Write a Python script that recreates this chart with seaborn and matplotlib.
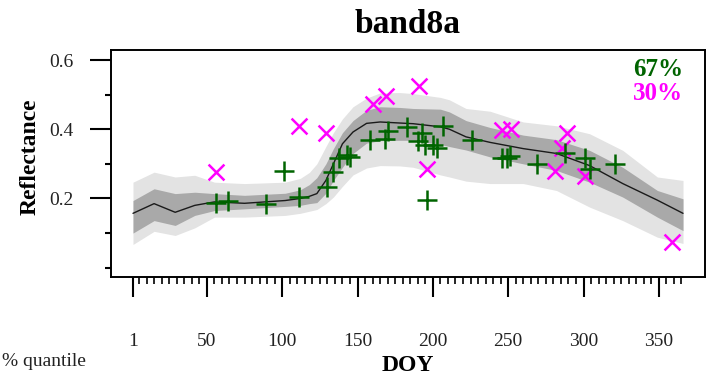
import numpy as np
import pandas as pd
import matplotlib
matplotlib.use("Agg")
import matplotlib.pyplot as plt
import seaborn as sns
from matplotlib.ticker import FixedLocator

# ---- data ----
band_days = [1, 15, 29, 42, 55, 75, 102, 112, 118, 123, 129, 134, 140, 147, 156, 165, 178,
             187, 205, 211, 222, 238, 260, 282, 304, 326, 349, 366]
median = [0.157, 0.185, 0.160, 0.180, 0.190, 0.186, 0.194, 0.200, 0.206, 0.214, 0.252,
          0.300, 0.358, 0.392, 0.417, 0.421, 0.418, 0.416, 0.407, 0.400, 0.378, 0.362,
          0.344, 0.330, 0.295, 0.243, 0.195, 0.157]
inner_hi = [0.194, 0.228, 0.214, 0.218, 0.214, 0.209, 0.215, 0.225, 0.240, 0.260, 0.300,
            0.344, 0.390, 0.425, 0.455, 0.465, 0.463, 0.460, 0.458, 0.450, 0.425, 0.405,
            0.383, 0.370, 0.339, 0.290, 0.223, 0.199]
inner_lo = [0.100, 0.136, 0.122, 0.151, 0.165, 0.170, 0.177, 0.180, 0.185, 0.188, 0.215,
            0.252, 0.290, 0.330, 0.360, 0.367, 0.368, 0.368, 0.356, 0.350, 0.340, 0.320,
            0.300, 0.281, 0.247, 0.204, 0.146, 0.107]
outer_hi = [0.247, 0.276, 0.262, 0.267, 0.247, 0.243, 0.247, 0.258, 0.275, 0.300, 0.350,
            0.390, 0.430, 0.465, 0.490, 0.505, 0.506, 0.503, 0.492, 0.485, 0.460, 0.452,
            0.421, 0.410, 0.387, 0.339, 0.262, 0.252]
outer_lo = [0.067, 0.105, 0.093, 0.115, 0.146, 0.146, 0.151, 0.157, 0.163, 0.168, 0.185,
            0.204, 0.235, 0.268, 0.288, 0.295, 0.294, 0.290, 0.268, 0.262, 0.250, 0.243,
            0.243, 0.223, 0.175, 0.136, 0.088, 0.070]

green_days = [56, 64, 89, 101, 111, 130, 134, 138, 143, 145, 158, 168, 170, 183, 190, 193,
              195, 196, 200, 203, 207, 226, 246, 249, 251, 269, 288, 301, 304, 321]
green_vals = [0.186, 0.194, 0.183, 0.278, 0.203, 0.232, 0.275, 0.318, 0.326, 0.320, 0.370,
              0.372, 0.395, 0.406, 0.365, 0.390, 0.355, 0.195, 0.354, 0.345, 0.410, 0.368,
              0.318, 0.318, 0.322, 0.300, 0.330, 0.316, 0.285, 0.300]

magenta_days = [56, 111, 129, 160, 169, 191, 196, 246, 252, 281, 286, 289, 301, 359]
magenta_vals = [0.275, 0.410, 0.390, 0.472, 0.496, 0.525, 0.284, 0.397, 0.400, 0.278,
                0.345, 0.388, 0.264, 0.075]

x_major = [1, 50, 100, 150, 200, 250, 300, 350]
y_major = [0.2, 0.4, 0.6]
y_minor = [0.0, 0.1, 0.3, 0.5]
x_minor = [d for d in range(5, 366, 5) if d % 50 != 0]

title = "band8a"
xlabel = "DOY"
ylabel = "Reflectance"
pct_green = "67%"
pct_magenta = "30%"
side_note = "% quantile"

# ---- plotting ----
sns.set_style("ticks")
plt.rcParams["font.family"] = ["Liberation Serif", "DejaVu Serif"]
plt.rcParams["text.color"] = "black"
plt.rcParams["axes.labelcolor"] = "black"
plt.rcParams["xtick.color"] = "black"
plt.rcParams["ytick.color"] = "black"

fig = plt.figure(figsize=(7.15, 3.75), dpi=100)
ax = fig.add_axes([111 / 715, 1 - 277 / 375, 594 / 715, 227 / 375])

bands = pd.DataFrame({"day": band_days, "median": median, "ilo": inner_lo,
                      "ihi": inner_hi, "olo": outer_lo, "ohi": outer_hi})
ax.fill_between(bands["day"], bands["olo"], bands["ohi"], color="#e3e3e3", lw=0, zorder=1)
ax.fill_between(bands["day"], bands["ilo"], bands["ihi"], color="#a9a9a9", lw=0, zorder=2)
sns.lineplot(data=bands, x="day", y="median", ax=ax, color="#1a1a1a", lw=1.0, zorder=3)

g = pd.DataFrame({"day": green_days, "val": green_vals})
m = pd.DataFrame({"day": magenta_days, "val": magenta_vals})
sns.scatterplot(data=g, x="day", y="val", ax=ax, marker="+", s=200, color="#006400",
                linewidth=1.8, zorder=5)
sns.scatterplot(data=m, x="day", y="val", ax=ax, marker="x", s=130, color="#ff00ff",
                linewidth=1.8, zorder=4)

ax.set_xlim(-13.6, 380.6)
ax.set_ylim(-0.027, 0.629)

ax.xaxis.set_major_locator(FixedLocator(x_major))
ax.xaxis.set_minor_locator(FixedLocator(x_minor))
ax.yaxis.set_major_locator(FixedLocator(y_major))
ax.yaxis.set_minor_locator(FixedLocator(y_minor))
ax.set_xticklabels([str(v) for v in x_major])
ax.set_yticklabels([f"{v:.1f}" for v in y_major])

ax.tick_params(axis="x", which="major", length=14.5, width=1.5, pad=26, labelsize=14,
               direction="out", color="black", labelcolor="#222222")
ax.tick_params(axis="x", which="minor", length=5, width=1.2, direction="out", color="black")
ax.tick_params(axis="y", which="major", length=15, width=1.5, pad=12, labelsize=14,
               direction="out", color="black", labelcolor="#222222")
ax.tick_params(axis="y", which="minor", length=4.5, width=1.5, direction="out", color="black")

for sp in ax.spines.values():
    sp.set_visible(True)
    sp.set_color("black")
    sp.set_linewidth(1.4)

ax.set_xlabel(xlabel, fontsize=17, fontweight="bold", color="black")
ax.set_ylabel(ylabel, fontsize=17, fontweight="bold", color="black")
ax.xaxis.set_label_coords(0.5, -0.388)
ax.xaxis.label.set_va("center")
ax.yaxis.set_label_coords(-0.136, 0.53)
ax.yaxis.label.set_va("center")

ax.set_title(title, fontsize=24, fontweight="bold", pad=12, color="black")

ax.text(0.963, 0.916, pct_green, transform=ax.transAxes, ha="right", va="center",
        fontsize=18, fontweight="bold", color="#006400")
ax.text(0.963, 0.81, pct_magenta, transform=ax.transAxes, ha="right", va="center",
        fontsize=18, fontweight="bold", color="#ff00ff")

fig.text(2 / 715, 1 - 362 / 375, side_note, ha="left", va="center", fontsize=14,
         color="#222222")

fig.savefig("out.png", dpi=100)
